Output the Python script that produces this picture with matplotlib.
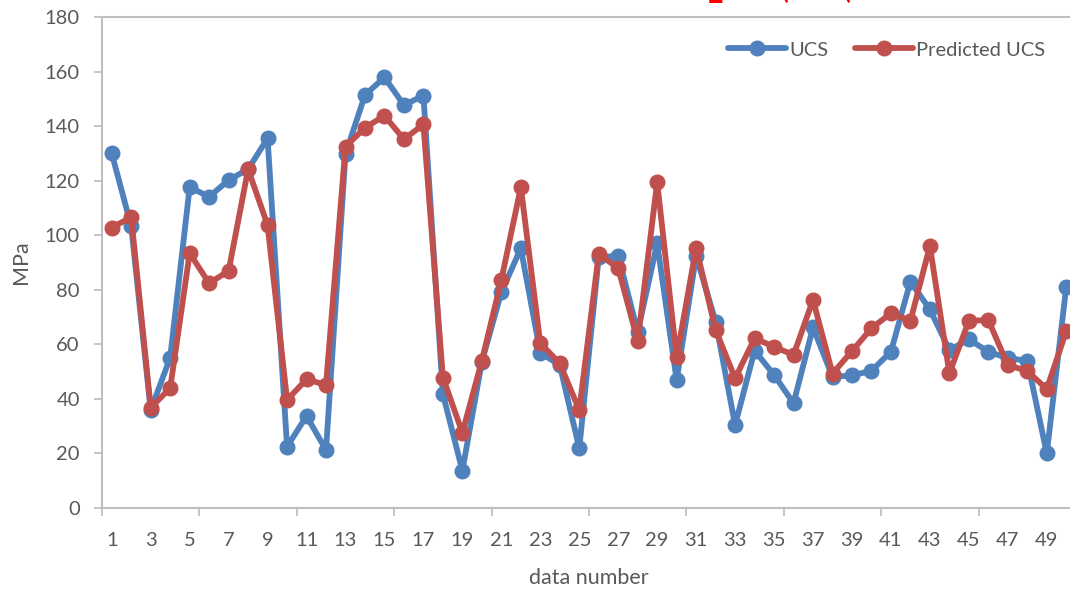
import matplotlib
matplotlib.use("Agg")
import matplotlib.pyplot as plt
import numpy as np

data_number = list(range(1, 51))
ucs = [130.0, 103.3, 35.9, 55.1, 117.6, 114.1, 120.2, 124.2, 135.5, 22.5,
       33.7, 21.3, 129.8, 151.4, 157.9, 147.7, 151.2, 41.8, 13.7, 53.6,
       79.1, 95.2, 56.9, 52.4, 21.9, 91.9, 92.5, 64.6, 97.0, 46.9,
       92.4, 68.3, 30.4, 57.7, 48.8, 38.4, 66.2, 48.1, 48.6, 50.3,
       57.3, 83.0, 72.8, 57.9, 61.8, 57.3, 54.9, 54.0, 20.0, 81.1]
predicted_ucs = [102.8, 106.6, 36.8, 43.9, 93.4, 82.4, 86.9, 124.2, 103.7, 39.6,
                 47.2, 45.1, 132.5, 139.4, 143.8, 135.2, 140.6, 47.8, 27.6, 54.0,
                 83.6, 117.6, 60.4, 53.0, 35.9, 93.1, 87.9, 61.3, 119.4, 55.2,
                 95.4, 65.3, 47.5, 62.2, 59.1, 56.1, 76.3, 49.3, 57.5, 65.9,
                 71.4, 68.6, 96.0, 49.4, 68.6, 68.9, 52.4, 50.2, 43.6, 64.9]
y_ticks = [0, 20, 40, 60, 80, 100, 120, 140, 160, 180]
x_labels = [str(i) for i in range(1, 51, 2)]
top_fragments = ['_', '(', '(']

plt.rcParams['font.family'] = ['Lato', 'DejaVu Sans']
text_color = '#595959'
axis_color = '#BFBFBF'
blue = '#4F81BD'
red = '#C0504D'

fig = plt.figure(figsize=(10.70, 5.93), dpi=100)
ax = fig.add_axes([102/1070, 85/593, 974/1070, 491/593])

ax.plot(data_number, ucs, color=blue, lw=4.2, marker='o', ms=10.5,
        label='UCS', solid_capstyle='round', clip_on=False, zorder=3)
ax.plot(data_number, predicted_ucs, color=red, lw=4.2, marker='o', ms=10.5,
        label='Predicted UCS', solid_capstyle='round', clip_on=False, zorder=4)

ax.set_xlim(0.5, 50.5)
ax.set_ylim(0, 180)
ax.set_yticks(y_ticks)
ax.set_xticks(np.arange(0.5, 51, 5))
ax.set_xticklabels([])
ax.set_xticks(range(1, 51, 2), minor=True)
ax.set_xticklabels(x_labels, minor=True)
ax.tick_params(axis='x', which='minor', length=0, pad=17, labelsize=14.5, labelcolor=text_color)
ax.tick_params(axis='x', which='major', length=6, width=1.3, color=axis_color, direction='out')
ax.tick_params(axis='y', length=6, width=1.3, color=axis_color, direction='out',
               labelsize=14.5, labelcolor=text_color, pad=10)

for s in ['left', 'bottom', 'top']:
    ax.spines[s].set_color(axis_color)
    ax.spines[s].set_linewidth(1.5)
ax.spines['right'].set_visible(False)

ax.set_xlabel('data number', fontsize=15.5, color=text_color, labelpad=14)
ax.set_ylabel('MPa', fontsize=15.5, color=text_color, labelpad=10)

leg = ax.legend(loc='center left', bbox_to_anchor=(728/1070, 1 - 50/593),
                bbox_transform=fig.transFigure, ncol=2, frameon=False,
                fontsize=14.5, handlelength=2.9, handletextpad=0.15,
                columnspacing=1.3, borderpad=0, borderaxespad=0)
for t in leg.get_texts():
    t.set_color(text_color)

for frag, xp, yoff, fs in zip(top_fragments, [716, 785, 846], [3, 3, 3], [24, 18, 18]):
    fig.text(xp/1070, 1 - yoff/593, frag, color='red', fontsize=fs, fontweight='bold',
             ha='center', va='bottom')

fig.savefig('out.png', dpi=100)
